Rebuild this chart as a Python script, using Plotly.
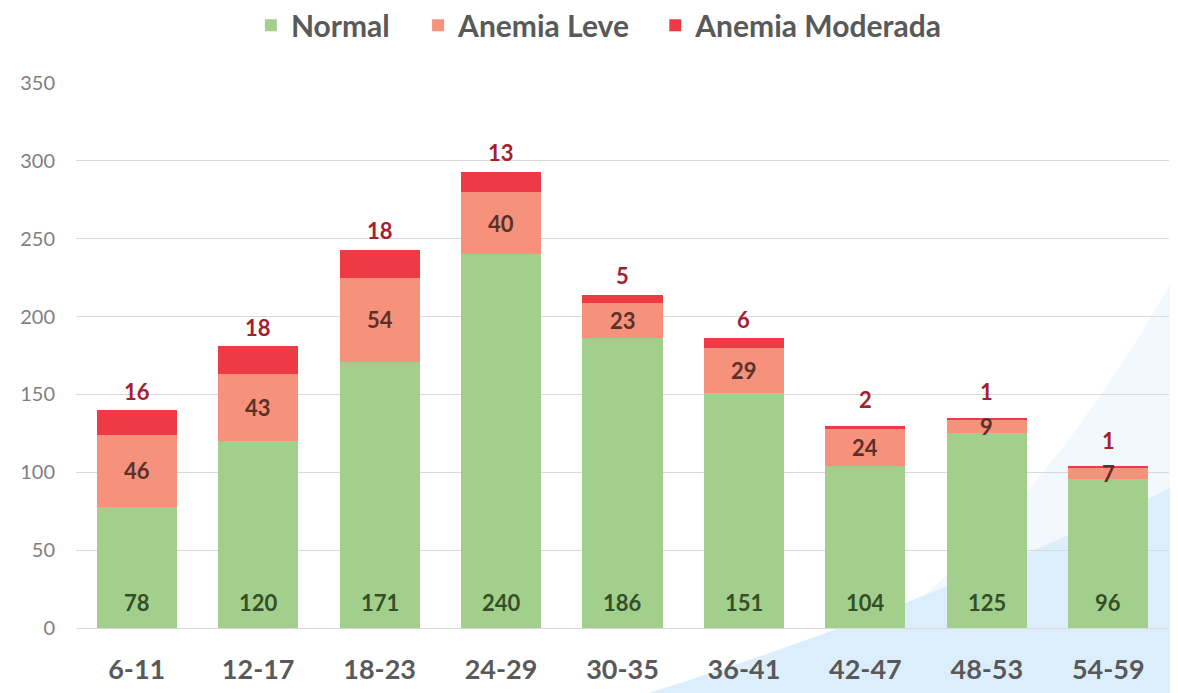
import plotly.graph_objects as go

categories = ["6-11", "12-17", "18-23", "24-29", "30-35", "36-41", "42-47", "48-53", "54-59"]
normal = [78, 120, 171, 240, 186, 151, 104, 125, 96]
anemia_leve = [46, 43, 54, 40, 23, 29, 24, 9, 7]
anemia_moderada = [16, 18, 18, 13, 5, 6, 2, 1, 1]
y_ticks = [0, 50, 100, 150, 200, 250, 300, 350]

FONT = "Lato"
C_NORMAL = "#A3CF8C"
C_LEVE = "#F6917B"
C_MOD = "#EE3A45"

fig = go.Figure()
fig.add_trace(go.Bar(x=categories, y=normal, name="Normal", legend="legend",
                     marker=dict(color=C_NORMAL, line_width=0)))
fig.add_trace(go.Bar(x=categories, y=anemia_leve, name="Anemia Leve", legend="legend2",
                     marker=dict(color=C_LEVE, line_width=0)))
fig.add_trace(go.Bar(x=categories, y=anemia_moderada, name="Anemia Moderada", legend="legend3",
                     marker=dict(color=C_MOD, line_width=0)))

LABEL_SIZE = 22
annotations = []
for c, n, l, m in zip(categories, normal, anemia_leve, anemia_moderada):
    annotations.append(dict(x=c, y=0, text=str(n), showarrow=False, yanchor="middle", yshift=26,
                            font=dict(family=FONT, size=LABEL_SIZE, color="#344F28", weight="bold")))
    annotations.append(dict(x=c, y=n + l / 2, text=str(l), showarrow=False, yanchor="middle",
                            font=dict(family=FONT, size=LABEL_SIZE, color="#5A3129", weight="bold")))
    annotations.append(dict(x=c, y=n + l + m, text=str(m), showarrow=False, yanchor="middle",
                            yshift=19 if (l + m) >= 27 else 26,
                            font=dict(family=FONT, size=LABEL_SIZE, color="#A3202E", weight="bold")))

shapes = [
    dict(type="path", xref="paper", yref="paper", layer="below",
         path="M 0.64,-0.125 Q 0.86,0.10 1.02,0.70 L 1.02,-0.125 Z",
         fillcolor="#F2F8FD", line_width=0),
    dict(type="path", xref="paper", yref="paper", layer="below",
         path="M 0.515,-0.125 Q 0.78,0.04 1.02,0.275 L 1.02,-0.125 Z",
         fillcolor="#DCEEFB", line_width=0),
]

leg_font = dict(family=FONT, size=30, color="#595959", weight="bold")
leg_common = dict(orientation="h", xanchor="left", yanchor="middle", yref="container", y=0.975,
                  font=leg_font, bgcolor="rgba(0,0,0,0)", itemwidth=30)

# page body adds an 8px offset, so the figure is sized/margined to compensate
fig.update_layout(
    barmode="stack",
    bargap=0.34,
    width=1170, height=685,
    margin=dict(l=68, r=9, t=75, b=65),
    paper_bgcolor="white",
    plot_bgcolor="rgba(0,0,0,0)",
    showlegend=True,
    font=dict(family=FONT, color="#595959"),
    legend=dict(x=0.160, **leg_common),
    legend2=dict(x=0.313, **leg_common),
    legend3=dict(x=0.530, **leg_common),
    annotations=annotations,
    shapes=shapes,
    xaxis=dict(showgrid=False, showline=False, zeroline=False, ticks="", automargin=False,
               tickfont=dict(family=FONT, size=27, color="#595959", weight="bold"),
               ticklabelstandoff=23),
    yaxis=dict(range=[0, 350], tickvals=y_ticks, showgrid=True, gridcolor="#D9D9D9", gridwidth=1,
               zeroline=True, zerolinecolor="#D9D9D9", zerolinewidth=1, showline=False, ticks="",
               automargin=False,
               tickfont=dict(family=FONT, size=20, color="#7F7F7F"),
               ticklabelstandoff=20),
)

fig.write_html("out.html")
